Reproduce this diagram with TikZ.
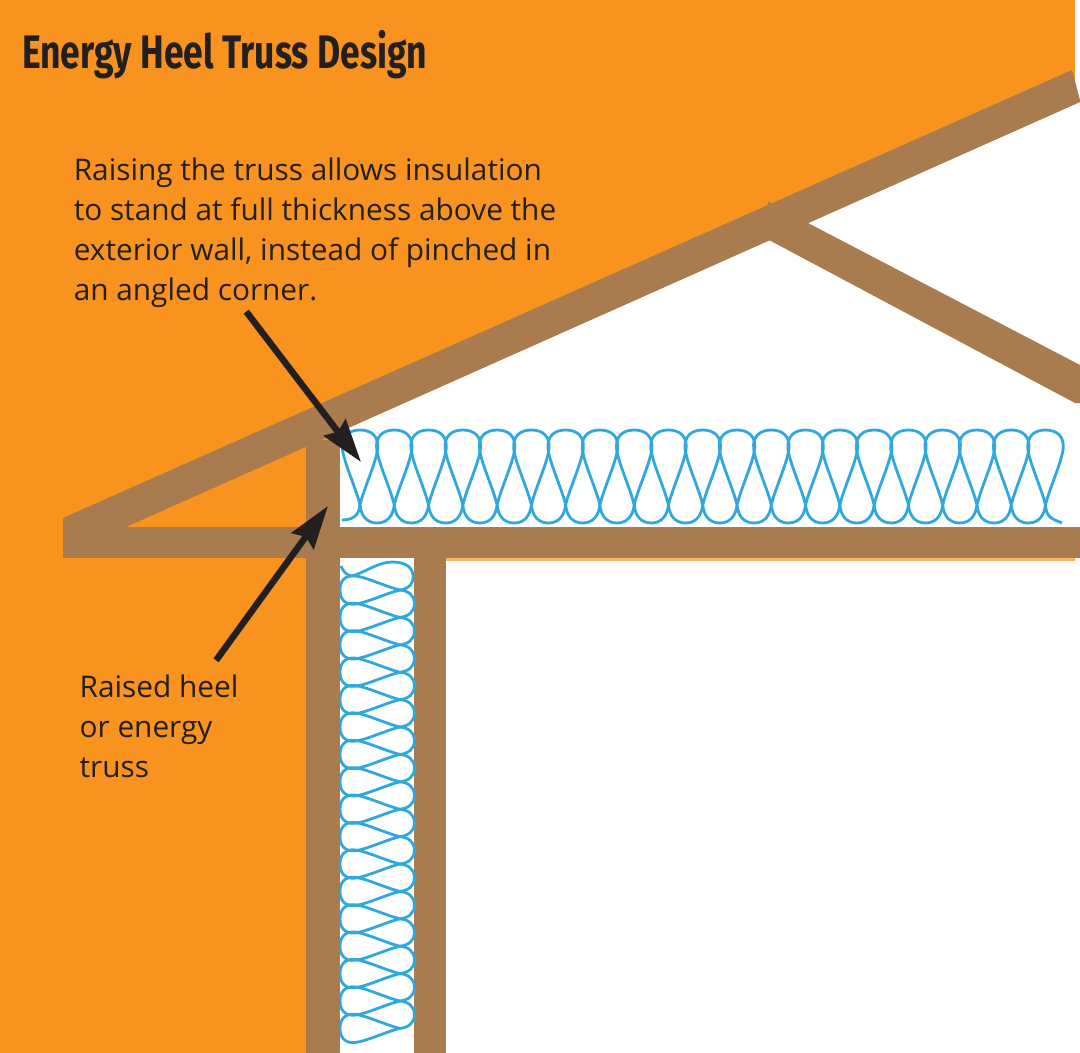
\documentclass[tikz,border=0pt]{standalone}
\usepackage{fontspec}
\setmainfont{Open Sans}
\newfontfamily\titlefont[FakeStretch=0.755]{Fira Sans}
\usetikzlibrary{arrows.meta}
\definecolor{wallorange}{HTML}{F7931E}
\definecolor{lumber}{HTML}{A97C50}
\definecolor{battblue}{HTML}{2FA8E0}
\definecolor{inkblack}{HTML}{231F20}
\tikzset{
  lumberpart/.style={fill=lumber, draw=none},
  openpart/.style={fill=white, draw=none},
  batt/.style={draw=battblue, line width=2.8pt, line join=round},
  note/.style={font=\fontsize{29.8}{40}\selectfont, text=inkblack, align=left, inner xsep=0pt},
  callout/.style={draw=inkblack, line width=6.5pt, -{Stealth[length=43pt,width=27pt,inset=5pt]}},
  battdrop/.pic={
    \draw[batt] (0,0) .. controls (4,-17) and (16,-42) .. (17.6,-56)
      .. controls (19,-69) and (11,-75) .. (0,-75)
      .. controls (-11,-75) and (-19,-69) .. (-17.6,-56)
      .. controls (-16,-42) and (-4,-17) .. (0,0);
  },
  battbelly/.pic={
    \draw[batt] (0,0) .. controls (1,10) and (6,18) .. (17.1,18)
      .. controls (28,18) and (33,10) .. (34.3,0);
  }
}

\begin{document}
\begin{tikzpicture}[x=1pt,y=-1pt]
  \useasboundingbox (0,0) rectangle (1080,1053);
  \fill[white] (0,0) rectangle (1080,1053);
  \fill[wallorange] (0,0) rectangle (1075,1053);

  % open spaces
  \fill[openpart] (340,431.7) -- (1080,102) -- (1080,527) -- (340,527) -- cycle;
  \fill[openpart] (340,558) rectangle (414,1053);
  \fill[openpart] (446,561) rectangle (1080,1053);
  \fill[wallorange!70] (446,558) rectangle (1075,561);

  % framing
  \fill[lumberpart] (63,518) -- (1072,70) -- (1080,100) -- (1080,102) -- (126,527) -- (63,558) -- cycle;
  \fill[lumberpart] (63,527) rectangle (1080,558);
  \fill[lumberpart] (768,201.5) -- (808,223) -- (1080,365) -- (1080,403) -- (1075,403) -- (769,240) -- cycle;
  \fill[lumberpart] (306,440) rectangle (340,1053);
  \fill[lumberpart] (414,558) rectangle (446,1053);

  % ceiling batt
  \foreach \n in {0,...,20} {
    \pic at ({360+34.275*\n},505) {battdrop};
  }
  \foreach \n in {0,...,19} {
    \pic at ({360+34.275*\n},505) {battbelly};
  }
  \draw[batt] (342,520) .. controls (352,520) and (359,516) .. (360,505);
  \draw[batt] (1045.5,505) .. controls (1046,518) and (1053,519) .. (1062,523);

  % wall batt
  \begin{scope}
    \clip (340,558) rectangle (416,1053);
    \foreach \n in {0,...,16} {
      \pic[cm={0,-0.8,-0.8,0,({400},{590+27.4*\n})}] {battdrop};
    }
    \foreach \n in {0,...,15} {
      \pic[cm={0,-0.8,-0.8,0,({400},{590+27.4*\n})}] {battbelly};
    }
    \draw[batt] (400,590) .. controls (408,589) and (414,584) .. (413,575)
      .. controls (412,566) and (404,562) .. (392,562)
      .. controls (378,562) and (366,572) .. (352,576)
      .. controls (348,576) and (343,572) .. (341,566);
  \end{scope}

  \node[anchor=base west, inner sep=0pt, font=\titlefont\bfseries\fontsize{47}{52}\selectfont, text=inkblack] (title) at (22,68) {Energy Heel Truss Design};
  \node[note, inner ysep=4pt, anchor=center] (risenote) at (315,232.5) {Raising the truss allows insulation\\to stand at full thickness above the\\exterior wall, instead of pinched in\\an angled corner.};
  \node[note, inner ysep=14pt, anchor=center] (heelnote) at (159,726) {Raised heel\\or energy\\truss};

  \coordinate (risetip) at (361,462);
  \coordinate (heeltip) at (328,506);
  \draw[callout] (risenote.229.7) -- (risetip);
  \draw[callout] (heelnote.49.6) -- (heeltip);
\end{tikzpicture}
\end{document}
